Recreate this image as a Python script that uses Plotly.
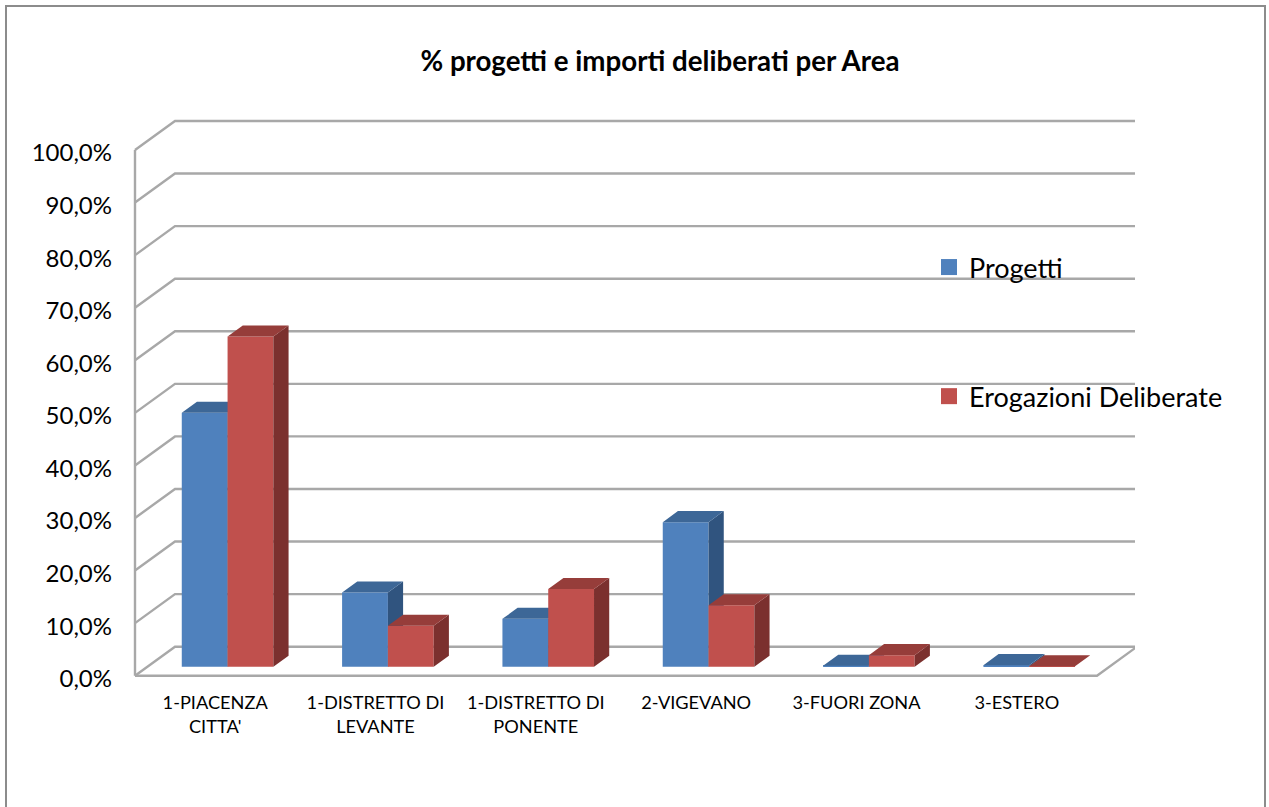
import plotly.graph_objects as go

categories = ["1-PIACENZA<br>CITTA'", "1-DISTRETTO DI<br>LEVANTE", "1-DISTRETTO DI<br>PONENTE",
              "2-VIGEVANO", "3-FUORI ZONA", "3-ESTERO"]
progetti = [48.3, 14.1, 9.1, 27.5, 0.2, 0.3]
erogazioni = [62.8, 7.8, 14.8, 11.7, 2.2, 0.1]
y_ticks = [0, 10, 20, 30, 40, 50, 60, 70, 80, 90, 100]
y_labels = [f"{v},0%" for v in y_ticks]

W, H = 1269, 807
ORIGIN_X, ORIGIN_Y = 135, 675.7          # pixel position of the front axis corner
PX_L, PX_R, PX_T, PX_B = 130, 1135, 115, 681   # plot frame, a little larger so lines are not clipped
PLOT_W, PLOT_H = PX_R - PX_L, PX_B - PX_T
UX = 160.33          # px per category
UY = 5.257           # px per percentage point
X_MIN, X_MAX = (PX_L - ORIGIN_X) / UX, (PX_R - ORIGIN_X) / UX
Y_MIN, Y_MAX = (ORIGIN_Y - PX_B) / UY, (ORIGIN_Y - PX_T) / UY
BACK_X = (1135 - ORIGIN_X) / UX
FLOOR_DX = 40 / UX   # full depth of chart floor, in axis units
FLOOR_DY = 29 / UY
BAR_BACK = 0.38      # bar depth as a share of floor depth
BAR_FRONT = 0.31     # where bar fronts sit on the floor
BAR_W = 45.8 / UX
GRID = "#a8a8a8"
FONT = "Lato"


def paper_x(px):
    return (px - PX_L) / PLOT_W


def paper_y(px):
    return (PX_B - px) / PLOT_H


fig = go.Figure()


def line(xs, ys):
    fig.add_trace(go.Scatter(x=xs, y=ys, mode="lines", line=dict(color=GRID, width=2.4),
                             showlegend=False, hoverinfo="skip"))


# walls and floor, derived from the axis ticks
for v in y_ticks:
    line([0, FLOOR_DX, BACK_X], [v, v + FLOOR_DY, v + FLOOR_DY])
line([0, 0], [0, 100])
n = len(categories)
line([0, n, n + FLOOR_DX], [0, 0, FLOOR_DY])


def series(values, name, front, top, right, ax):
    sgn = -1 if ax == 2 else 1
    xa, ya = f"x{ax}", f"y{ax}"
    shift = BAR_FRONT * FLOOR_DX
    base = BAR_FRONT * FLOOR_DY
    ddx, ddy = BAR_BACK * FLOOR_DX, BAR_BACK * FLOOR_DY
    centers = [i + 0.5 + shift + sgn * BAR_W / 2 for i in range(n)]
    fig.add_trace(go.Bar(x=centers, y=values, base=[base] * n, width=BAR_W, name=name,
                         marker=dict(color=front, line=dict(width=0)), xaxis=xa, yaxis=ya,
                         showlegend=False, hovertemplate=name + ": %{y:.1f}%<extra></extra>"))
    tx, ty, sx, sy = [], [], [], []
    for c, v in zip(centers, values):
        l, r, t = c - BAR_W / 2, c + BAR_W / 2, base + v
        tx += [l, r, r + ddx, l + ddx, l, None]
        ty += [t, t, t + ddy, t + ddy, t, None]
        sx += [r, r + ddx, r + ddx, r, r, None]
        sy += [base, base + ddy, t + ddy, t, base, None]
    for xs, ys, col in ((sx, sy, right), (tx, ty, top)):
        fig.add_trace(go.Scatter(x=xs, y=ys, mode="lines", fill="toself", fillcolor=col,
                                 line=dict(width=0, color=col), xaxis=xa, yaxis=ya,
                                 showlegend=False, hoverinfo="skip"))
    fig.add_trace(go.Scatter(x=[None], y=[None], mode="markers", name=name, legendgroup=name,
                             marker=dict(symbol="square", size=16, color=front),
                             xaxis=xa, yaxis=ya, hoverinfo="skip"))


series(progetti, "Progetti", "#4f81bd", "#3d6797", "#30547f", 2)
series(erogazioni, "Erogazioni Deliberate", "#c0504d", "#963d3a", "#7b302e", 3)

fig.update_layout(
    width=W, height=H, autosize=False,
    margin=dict(l=PX_L, r=W - PX_R, t=PX_T, b=H - PX_B, pad=0),
    paper_bgcolor="white", plot_bgcolor="rgba(0,0,0,0)",
    font=dict(family=FONT, color="black"),
    title=dict(text="<b>% progetti e importi deliberati per Area</b>", x=660 / W, xanchor="center",
               y=1 - 61 / H, yanchor="middle", font=dict(size=27.7, family=FONT, color="black")),
    xaxis=dict(range=[X_MIN, X_MAX], tickmode="array", tickvals=[i + 0.5 for i in range(n)],
               ticktext=categories, showgrid=False, zeroline=False, showline=False, ticks="",
               tickangle=0, tickfont=dict(size=18.2), ticklabelstandoff=9),
    yaxis=dict(range=[Y_MIN, Y_MAX], tickmode="array", tickvals=y_ticks, ticktext=y_labels,
               showgrid=False, zeroline=False, showline=False, ticks="",
               tickfont=dict(size=24), ticklabelstandoff=17, ticklabelshift=3),
    xaxis2=dict(range=[X_MIN, X_MAX], overlaying="x", visible=False),
    yaxis2=dict(range=[Y_MIN, Y_MAX], overlaying="y", visible=False),
    xaxis3=dict(range=[X_MIN, X_MAX], overlaying="x", visible=False),
    yaxis3=dict(range=[Y_MIN, Y_MAX], overlaying="y", visible=False),
    barmode="overlay",
    legend=dict(x=paper_x(929), xanchor="left", y=paper_y(243), yanchor="top", bgcolor="rgba(0,0,0,0)",
                font=dict(size=27, family=FONT), tracegroupgap=91, itemclick=False),
    shapes=[dict(type="rect", xref="paper", yref="paper", x0=paper_x(6), x1=paper_x(1265),
                 y0=paper_y(830), y1=paper_y(6), line=dict(color="#8c8c8c", width=2), layer="below")],
)
fig.write_html("out.html", config=dict(displayModeBar=False),
               post_script="document.body.style.margin='0';document.body.style.overflow='hidden';")
